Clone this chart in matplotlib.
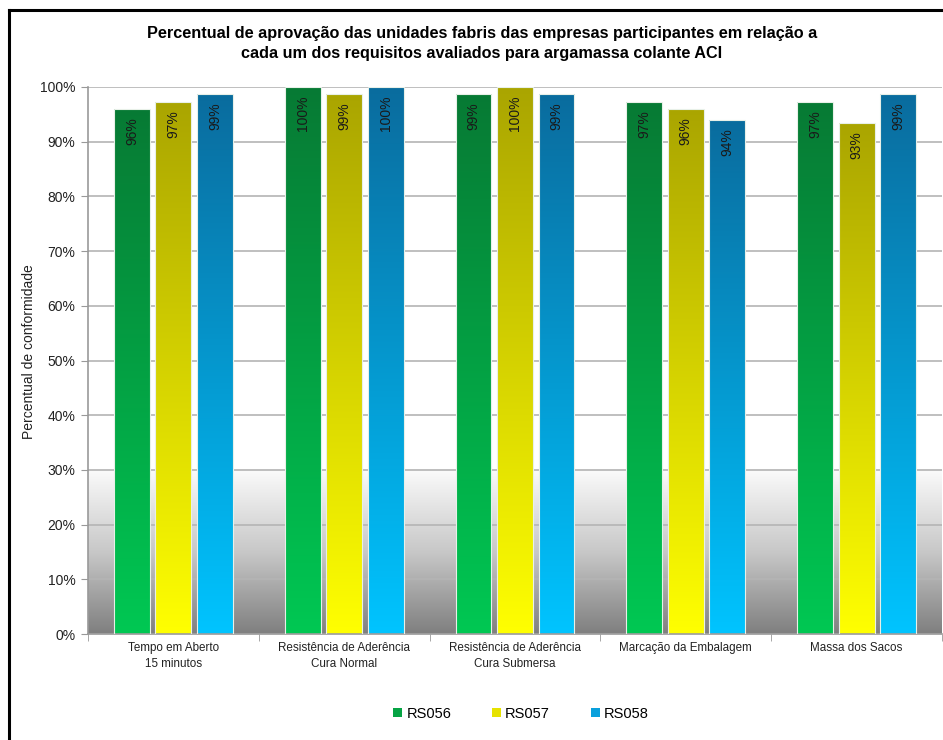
import numpy as np
import matplotlib
matplotlib.use("Agg")
import matplotlib.pyplot as plt
from matplotlib.colors import LinearSegmentedColormap
from matplotlib.patches import Patch
from matplotlib.ticker import PercentFormatter, MultipleLocator

plt.rcParams['font.family'] = ['Liberation Sans', 'DejaVu Sans']

categories = ["Tempo em Aberto\n15 minutos", "Resistência de Aderência\nCura Normal",
              "Resistência de Aderência\nCura Submersa", "Marcação da Embalagem", "Massa dos Sacos"]
series = ["RS056", "RS057", "RS058"]
rs056 = [96.0, 100.0, 98.67, 97.33, 97.33]
rs057 = [97.33, 98.67, 100.0, 96.0, 93.33]
rs058 = [98.67, 100.0, 98.67, 94.0, 98.67]
values = [rs056, rs057, rs058]

# top colour / bottom colour of each bar gradient
grads = [("#077a34", "#00c853"), ("#aaa500", "#ffff00"), ("#0a6c9e", "#00c4ff")]
legend_cols = ["#06a444", "#e6e200", "#0aa0dc"]

fig = plt.figure(figsize=(9.43, 7.40), dpi=100)
ax = fig.add_axes([88/943, 1-634/740, (942-88)/943, (634-87)/740])

x = np.arange(len(categories))
width = 0.21
step = 0.243

# background: white above 30%, grey fade below
bg = LinearSegmentedColormap.from_list("bg", ["#7f7f7f", "#c8c8c8", "#fbfbfb"])
ax.imshow(np.linspace(0, 1, 256).reshape(-1, 1), extent=(-0.5, 4.5, 0, 30), origin="lower",
          aspect="auto", cmap=bg, zorder=0)

for i, (vals, (ctop, cbot)) in enumerate(zip(values, grads)):
    cmap = LinearSegmentedColormap.from_list("g%d" % i, [cbot, ctop])
    bars = ax.bar(x + (i - 1) * step, vals, width, facecolor="none",
                  edgecolor="#e8f0e8", linewidth=0.8, zorder=3)
    for b, v in zip(bars, vals):
        x0, w, h = b.get_x(), b.get_width(), b.get_height()
        im = ax.imshow(np.linspace(0, 1, 256).reshape(-1, 1), extent=(x0, x0 + w, 0, h),
                       origin="lower", aspect="auto", cmap=cmap, zorder=2)
        im.set_clip_path(b)
        ax.text(x0 + w / 2, h - 1.5, "%d%%" % round(v), rotation=90, ha="center", va="top",
                fontsize=10, color="#1a1a1a", zorder=4)

ax.set_xlim(-0.5, 4.5)
ax.set_ylim(0, 100)
ax.yaxis.set_major_locator(MultipleLocator(10))
ax.yaxis.set_major_formatter(PercentFormatter(decimals=0))
ax.grid(True, axis="y", color="#b4b4b4", linewidth=1.2, zorder=1)
ax.set_axisbelow(True)

ax.set_xticks(x)
ax.set_xticklabels(categories, fontsize=8.4, color="#222222", linespacing=1.45)
ax.set_xticks(np.arange(-0.5, 5.0, 1), minor=True)
ax.tick_params(axis="x", which="major", length=0, pad=6)
ax.tick_params(axis="x", which="minor", length=5, color="#999999")
ax.tick_params(axis="y", length=5, color="#999999", labelsize=10, labelcolor="#222222", pad=4)

for s in ["top", "right"]:
    ax.spines[s].set_visible(False)
for s in ["left", "bottom"]:
    ax.spines[s].set_color("#999999")
    ax.spines[s].set_linewidth(1.2)

ax.set_ylabel("Percentual de conformidade", fontsize=10, color="#222222")
ax.yaxis.set_label_coords(-0.061, 0.517)

fig.text(482/943, 1-43.5/740, "Percentual de aprovação das unidades fabris das empresas participantes em relação a\n"
         "cada um dos requisitos avaliados para argamassa colante ACI",
         ha="center", va="center", fontsize=11.7, fontweight="bold", linespacing=1.45)

handles = [Patch(facecolor=c, edgecolor="none") for c in legend_cols]
fig.legend(handles, series, loc="center", bbox_to_anchor=(521/943, 1-714/740), ncol=3,
           frameon=False, fontsize=10.5, handlelength=0.6, handleheight=0.6,
           handletextpad=0.3, columnspacing=2.8)

# chart border
fig.add_artist(plt.Line2D([9/943, 9/943], [0, 1-10/740], color="black", linewidth=2.2,
                          transform=fig.transFigure))
fig.add_artist(plt.Line2D([9/943, 1], [1-10/740, 1-10/740], color="black", linewidth=2.2,
                          transform=fig.transFigure))

fig.savefig("out.png", dpi=100)
